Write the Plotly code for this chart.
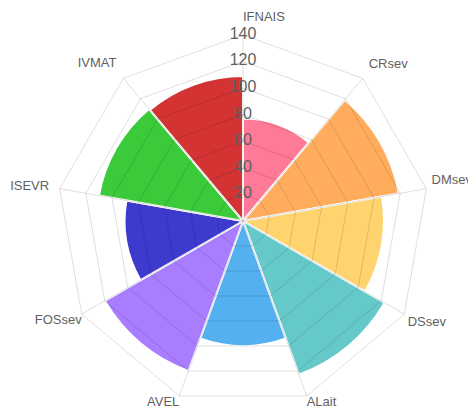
"""Polar area chart of trait values (nine categories, polygon grid)."""

import plotly.graph_objects as go

categories = ["IFNAIS", "CRsev", "DMsev", "DSsev", "ALait",
              "AVEL", "FOSsev", "ISEVR", "IVMAT"]
values = [77, 119, 106, 123, 94, 120, 89, 110, 109]
radial_ticks = [20, 40, 60, 80, 100, 120, 140]

colors = [
    "rgba(255,99,132,0.85)",
    "rgba(255,159,64,0.85)",
    "rgba(255,205,86,0.85)",
    "rgba(75,192,192,0.85)",
    "rgba(54,162,235,0.85)",
    "rgba(153,102,255,0.85)",
    "rgba(20,15,195,0.82)",
    "rgba(15,190,15,0.82)",
    "rgba(200,0,0,0.8)",
]

_GRID = "rgba(0,0,0,0.13)"
_TEXT = "#5f5f5f"
_FONT = "Liberation Sans, Arial, sans-serif"

n = len(categories)
step = 360 / n
label_angles = [i * step for i in range(n)]
bar_angles = [a + step / 2 for a in label_angles]
r_max = radial_ticks[-1]
r_axis = 150  # a little room outside the grid for the category labels

fig = go.Figure()

# polygon rings
ring_theta = label_angles + [360]
for t in radial_ticks:
    fig.add_trace(go.Scatterpolar(
        r=[t] * len(ring_theta), theta=ring_theta,
        mode="lines", line=dict(color=_GRID, width=1),
        hoverinfo="skip", showlegend=False,
    ))

# spokes
for a in label_angles:
    fig.add_trace(go.Scatterpolar(
        r=[0, r_max], theta=[a, a],
        mode="lines", line=dict(color=_GRID, width=1),
        hoverinfo="skip", showlegend=False,
    ))

# radial tick labels, centred on the vertical spoke
fig.add_trace(go.Scatterpolar(
    r=radial_ticks,
    theta=[0] * len(radial_ticks),
    mode="text",
    text=[str(t) for t in radial_ticks],
    textfont=dict(size=16, color=_TEXT, family=_FONT),
    hoverinfo="skip",
    showlegend=False,
))

fig.add_trace(go.Barpolar(
    r=values,
    theta=bar_angles,
    width=[step] * n,
    marker=dict(color=colors, line=dict(color="white", width=2)),
    showlegend=False,
))

# category labels just outside the polygon vertices
fig.add_trace(go.Scatterpolar(
    r=[148, 147, 144, 143, 140, 140, 140, 148, 148],
    theta=label_angles,
    mode="text",
    text=categories,
    textposition=["top right", "top right", "top right", "bottom right",
                  "bottom right", "bottom left", "bottom left",
                  "middle left", "top left"],
    textfont=dict(size=13, color=_TEXT, family=_FONT),
    cliponaxis=False,
    hoverinfo="skip",
    showlegend=False,
))

fig.update_layout(
    width=476,
    height=414,
    margin=dict(l=0, r=0, t=0, b=0),
    paper_bgcolor="white",
    plot_bgcolor="white",
    font=dict(family=_FONT, color=_TEXT),
    polar=dict(
        domain=dict(x=[35.5 / 476, 434.5 / 476], y=[1.5 / 414, 400.5 / 414]),
        bgcolor="white",
        bargap=0,
        angularaxis=dict(
            rotation=90,
            direction="clockwise",
            thetaunit="degrees",
            showticklabels=False,
            showgrid=False,
            showline=False,
            ticks="",
        ),
        radialaxis=dict(
            range=[0, r_axis],
            showticklabels=False,
            ticks="",
            showline=False,
            showgrid=False,
        ),
    ),
)

fig.write_html("out.html")
